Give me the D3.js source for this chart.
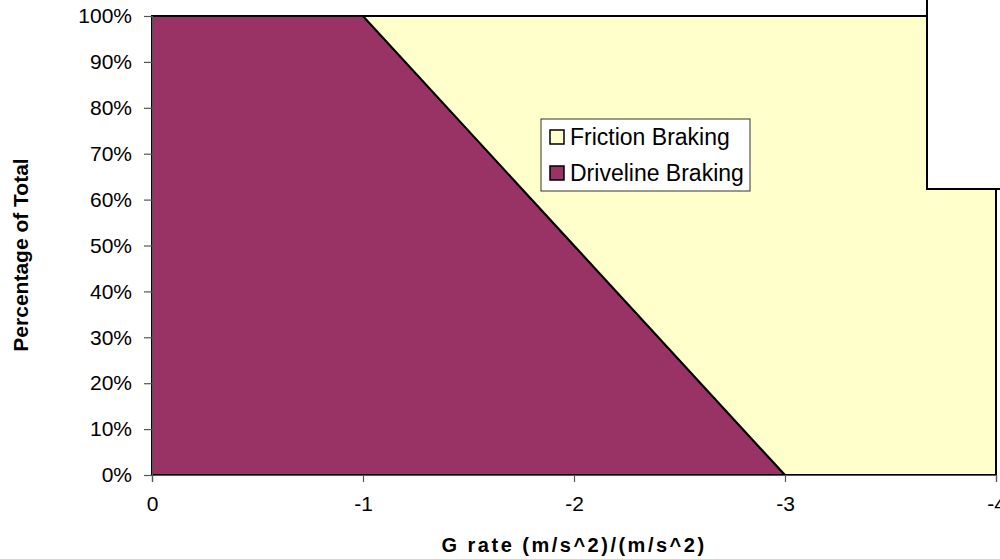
<!DOCTYPE html>
<html><head><meta charset="utf-8">
<script src="https://cdn.jsdelivr.net/npm/d3@7"></script>
<style>html,body{margin:0;padding:0;background:#fff;overflow:hidden}</style>
</head><body>
<svg id="c" width="1000" height="559"></svg>
<script>
const gRate = [0, -1, -2, -3, -4];
const driveline = [1.00, 1.00, 0.50, 0.00, 0.00];
const friction = [0.00, 0.00, 0.50, 1.00, 1.00];
const xTicks = [0, -1, -2, -3, -4];
const yTicks = [0, 0.1, 0.2, 0.3, 0.4, 0.5, 0.6, 0.7, 0.8, 0.9, 1.0];
const seriesNames = ["Driveline Braking", "Friction Braking"];
const colors = {"Driveline Braking": "#993366", "Friction Braking": "#FFFFCC"};

const svg = d3.select("#c");
const x = d3.scaleLinear().domain([0, -4]).range([152, 996]);
const y = d3.scaleLinear().domain([0, 1]).range([475, 16]);
const font = "Arial, 'Liberation Sans', sans-serif";

const rows = gRate.map((g, i) => ({g, "Driveline Braking": driveline[i], "Friction Braking": friction[i]}));
const stacked = d3.stack().keys(seriesNames)(rows);
const area = d3.area().x(d => x(d.data.g)).y0(d => y(d[0])).y1(d => y(d[1]));

svg.selectAll("path.a").data(stacked).join("path")
  .attr("class", "a")
  .attr("d", area)
  .attr("fill", d => colors[d.key])
  .attr("stroke", "#000").attr("stroke-width", 2).attr("stroke-linejoin", "miter");

// axes
const yAxis = svg.append("g").attr("transform", "translate(152,0)")
  .call(d3.axisLeft(y).tickValues(yTicks).tickFormat(d3.format(".0%")).tickSize(8).tickPadding(12));
const xAxis = svg.append("g").attr("transform", "translate(0,475)")
  .call(d3.axisBottom(x).tickValues(xTicks).tickFormat(d => d === 0 ? "0" : d3.format("d")(d).replace("\u2212", "-")).tickSize(7).tickPadding(14));
[yAxis, xAxis].forEach(a => {
  a.selectAll("path.domain").attr("stroke", "#555").attr("stroke-width", 1.2);
  a.selectAll(".tick line").attr("stroke", "#555").attr("stroke-width", 1.2);
  a.selectAll("text").attr("font-family", font).attr("font-size", 21).attr("fill", "#000");
});

// axis titles
svg.append("text").attr("x", 574).attr("y", 552).attr("text-anchor", "middle")
  .attr("font-family", font).attr("font-size", 20).attr("font-weight", "bold").attr("letter-spacing", 2.5)
  .text("G rate (m/s^2)/(m/s^2)");
svg.append("text").attr("transform", "translate(28,255) rotate(-90)").attr("text-anchor", "middle")
  .attr("font-family", font).attr("font-size", 21).attr("font-weight", "bold")
  .text("Percentage of Total");

// legend
const lg = svg.append("g").attr("transform", "translate(541,119)");
lg.append("rect").attr("width", 209).attr("height", 72).attr("fill", "#fff").attr("stroke", "#333").attr("stroke-width", 1);
const legendItems = ["Friction Braking", "Driveline Braking"];
legendItems.forEach((name, i) => {
  const cy = 18 + i * 36;
  lg.append("rect").attr("x", 9).attr("y", cy - 7).attr("width", 14).attr("height", 14)
    .attr("fill", colors[name]).attr("stroke", "#000").attr("stroke-width", 1.5);
  lg.append("text").attr("x", 29).attr("y", cy).attr("dy", "0.36em")
    .attr("font-family", font).attr("font-size", 23).attr("fill", "#000").text(name);
});

// cut-off box at top right
svg.append("rect").attr("x", 927).attr("y", -5).attr("width", 100).attr("height", 194)
  .attr("fill", "#fff").attr("stroke", "#000").attr("stroke-width", 2);
</script>
</body></html>
